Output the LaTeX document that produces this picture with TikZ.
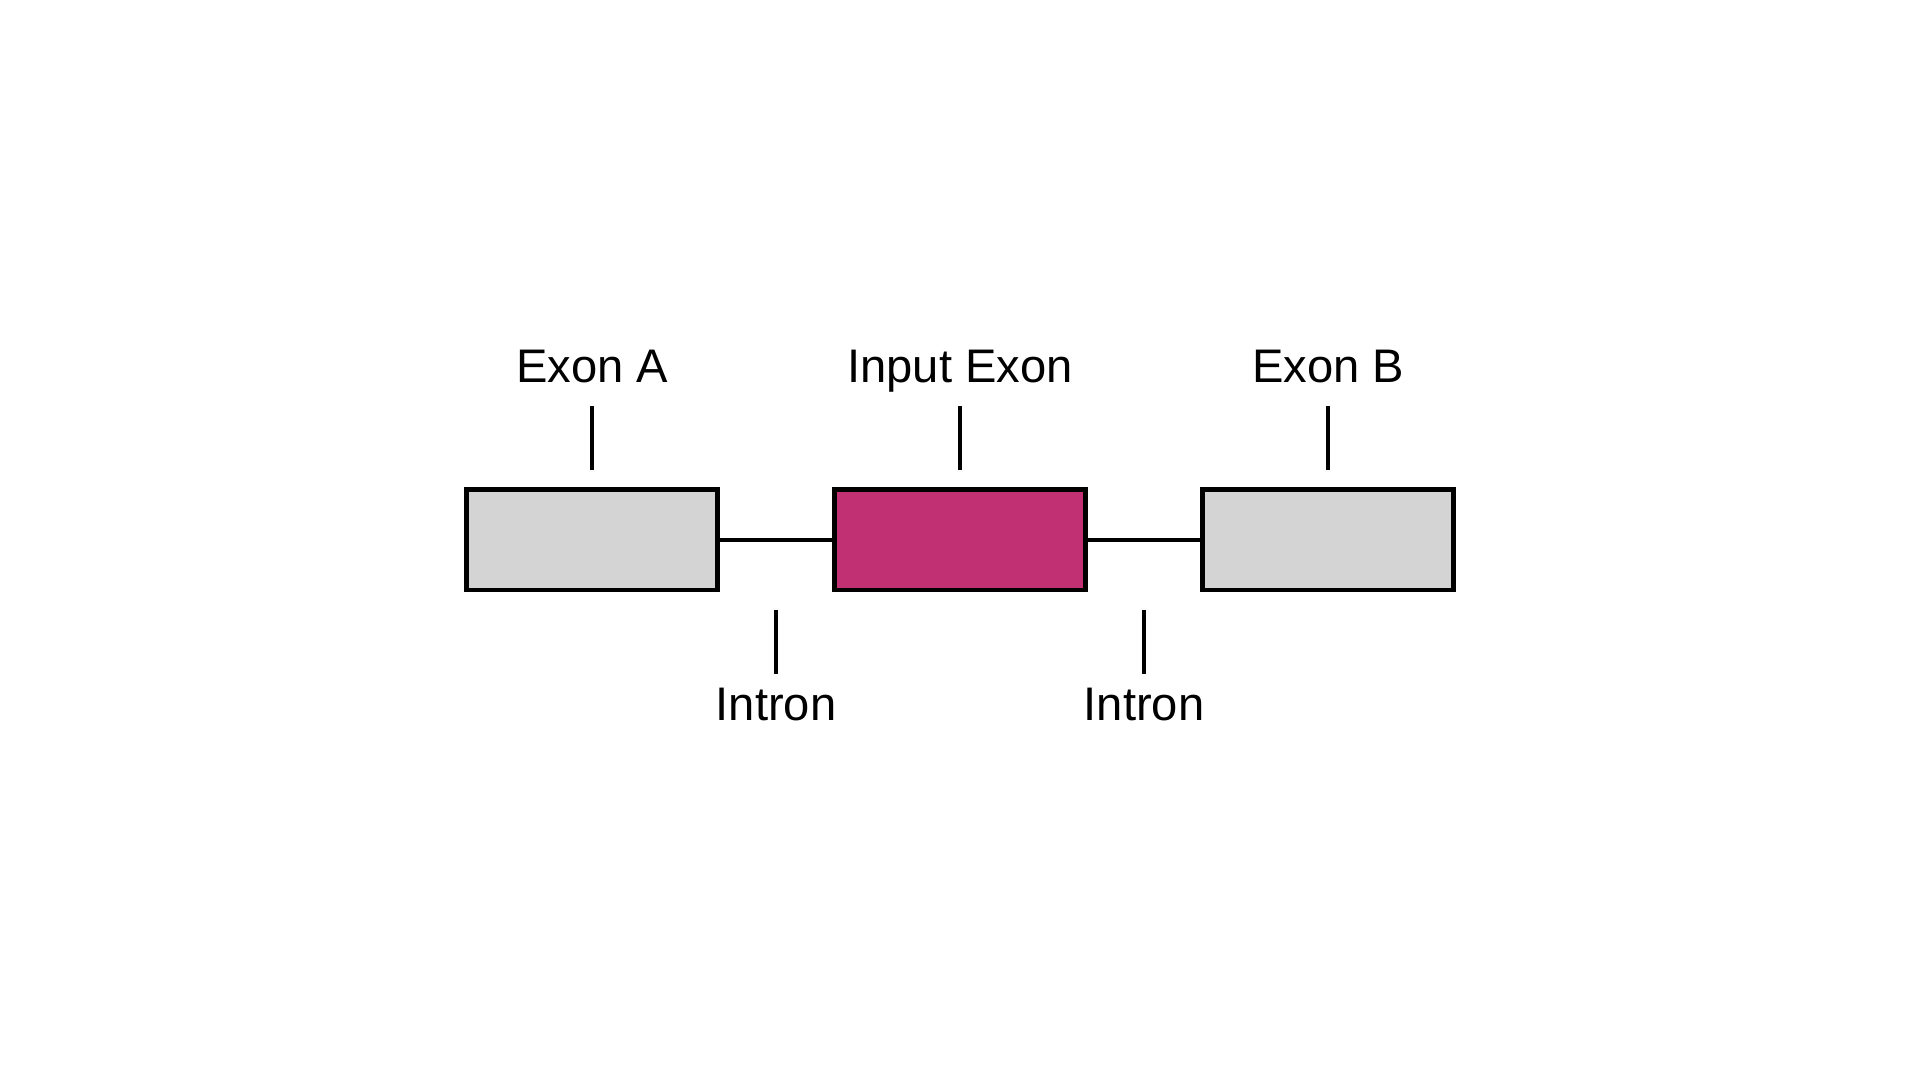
\documentclass[tikz,border=0pt]{standalone}
\usepackage{fontspec}
\setmainfont{Liberation Sans}
\definecolor{exgrey}{RGB}{212,212,212}
\definecolor{exmag}{RGB}{194,48,116}
\begin{document}
\begin{tikzpicture}[x=0.01cm,y=-0.01cm,
  exonbox/.style={draw=black, line width=1.4pt, minimum width=2.5cm, minimum height=1cm, inner sep=0, outer sep=0},
  tick/.style={line width=1.3pt},
  intronline/.style={line width=1.2pt},
  lbl/.style={font=\fontsize{13.4pt}{15pt}\selectfont, inner sep=0, anchor=base}]
\useasboundingbox[fill=white] (0,0) rectangle (1920,1080);
% boxes
\node[exonbox, fill=exgrey] (exA) at (592,540) {};
\node[exonbox, fill=exmag] (inE) at (960,540) {};
\node[exonbox, fill=exgrey] (exB) at (1328,540) {};
% introns
\draw[intronline] (exA.east) -- (inE.west);
\draw[intronline] (inE.east) -- (exB.west);
% top labels
\node[lbl] (lA) at (592,383) {Exon A};
\node[lbl] (lI) at (960,383) {Input Exon};
\node[lbl] (lB) at (1328,383) {Exon B};
\coordinate (tA1) at (592,406); \coordinate (tA2) at (592,470);
\coordinate (tI1) at (960,406); \coordinate (tI2) at (960,470);
\coordinate (tB1) at (1328,406); \coordinate (tB2) at (1328,470);
\draw[tick] (tA1) -- (tA2);
\draw[tick] (tI1) -- (tI2);
\draw[tick] (tB1) -- (tB2);
% bottom labels
\coordinate (b1a) at (776,610); \coordinate (b1b) at (776,674);
\coordinate (b2a) at (1144,610); \coordinate (b2b) at (1144,674);
\draw[tick] (b1a) -- (b1b);
\draw[tick] (b2a) -- (b2b);
\node[lbl] (in1) at (776,721) {Intron};
\node[lbl] (in2) at (1144,721) {Intron};
\end{tikzpicture}
\end{document}
